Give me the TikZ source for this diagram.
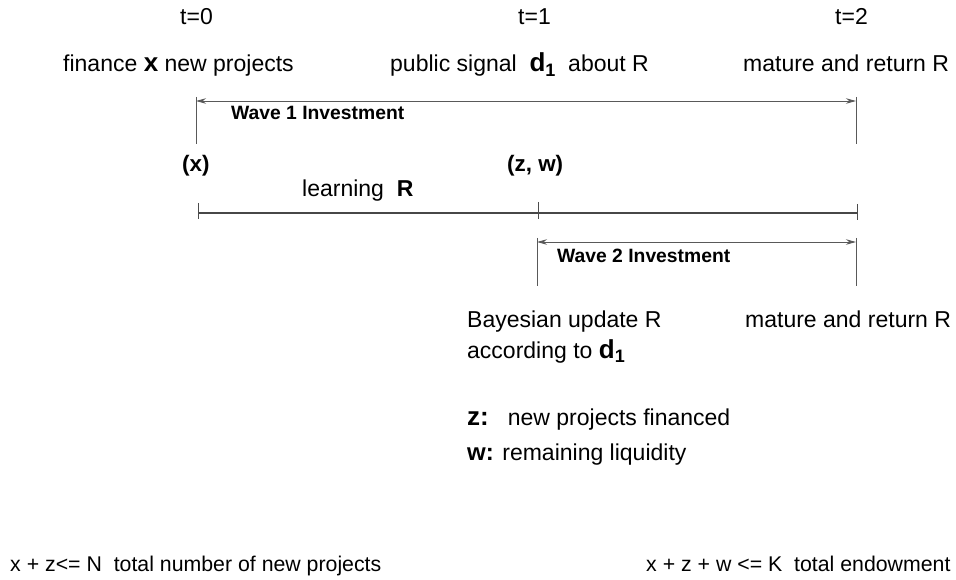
\documentclass[tikz,border=0pt]{standalone}
\usepackage{fontspec}
\setmainfont{Liberation Sans}
\usetikzlibrary{arrows.meta}
\newcommand{\dsub}{\textbf{\fontsize{26}{28}\selectfont d\raisebox{-0.35ex}{\fontsize{18}{20}\selectfont 1}}}
\begin{document}
\begin{tikzpicture}[x=1pt,y=-1pt,
 txt/.style={inner sep=0pt, anchor=base west, font=\fontsize{23}{27}\selectfont},
 small/.style={inner sep=0pt, anchor=base west, font=\fontsize{21.3}{25}\selectfont},
 lbl/.style={inner sep=0pt, anchor=base west, font=\fontsize{19.3}{23}\selectfont\bfseries},
 blbl/.style={inner sep=0pt, anchor=base west, font=\fontsize{22.4}{26}\selectfont\bfseries},
 guide/.style={draw=gray!70!black, line width=0.9pt},
 spanarrow/.style={guide, {Stealth[length=10pt,width=5.5pt]}-{Stealth[length=10pt,width=5.5pt]}},
 axis/.style={draw=black!72, line width=2.2pt},
 tickmark/.style={draw=gray!60!black, line width=0.8pt}]
\useasboundingbox (0,0) rectangle (956,580);

% top row
\node[txt] (t0) at (180,25) {t=0};
\node[txt] (t1) at (518,25) {t=1};
\node[txt] (t2) at (835,25) {t=2};
\node[txt] (fin) at (63,72) {finance \textbf{\fontsize{26}{28}\selectfont x} new projects};
\node[txt] (sig) at (390,72) {public signal\ \ \dsub\ \ about R};
\node[txt] (mat1) at (743,72) {mature and return R};

% wave 1
\coordinate (w1at) at (196,97);
\coordinate (w1ab) at (196,144);
\coordinate (w1bt) at (856,97);
\coordinate (w1bb) at (856,144);
\coordinate (w1l) at (196,101);
\coordinate (w1r) at (856,101);
\draw[guide] (w1at) -- (w1ab);
\draw[guide] (w1bt) -- (w1bb);
\draw[spanarrow] (w1l) -- (w1r);
\node[lbl] (wave1) at (231,120) {Wave 1 Investment};

\node[blbl] (xlab) at (182,172) {(x)};
\node[blbl] (zw) at (507,172) {(z, w)};
\node[txt] (learn) at (302,197) {learning\ \ \textbf{R}};

% timeline
\coordinate (ta) at (198,213);
\coordinate (tb) at (538,213);
\coordinate (tc) at (857,213);
\coordinate (ta1) at (198,203);
\coordinate (ta2) at (198,219);
\coordinate (tb1) at (538,202);
\coordinate (tb2) at (538,219);
\coordinate (tc1) at (857,204);
\coordinate (tc2) at (857,220);
\draw[axis] (ta) -- (tc);
\draw[tickmark] (ta1) -- (ta2);
\draw[tickmark] (tb1) -- (tb2);
\draw[tickmark] (tc1) -- (tc2);

% wave 2
\coordinate (w2at) at (537,238);
\coordinate (w2ab) at (537,286);
\coordinate (w2bt) at (856,238);
\coordinate (w2bb) at (856,286);
\coordinate (w2l) at (537,242);
\coordinate (w2r) at (856,242);
\draw[guide] (w2at) -- (w2ab);
\draw[guide] (w2bt) -- (w2bb);
\draw[spanarrow] (w2l) -- (w2r);
\node[lbl] (wave2) at (557,262) {Wave 2 Investment};

% lower texts
\node[txt] (bay) at (467,327) {Bayesian update R};
\node[txt] (acc) at (467,358) {according to \dsub};
\node[txt] (mat2) at (745,327) {mature and return R};
\node[txt] (zdef) at (467,425) {\textbf{\fontsize{26}{28}\selectfont z:}\hspace{19pt}new projects financed};
\node[txt] (wdef) at (467,460) {\textbf{\fontsize{24}{28}\selectfont w:} remaining liquidity};

\node[small] (cons1) at (10,571) {x + z<= N\ \ total number of new projects};
\node[small] (cons2) at (646,571) {x + z + w <= K\ \ total endowment};
\end{tikzpicture}
\end{document}
